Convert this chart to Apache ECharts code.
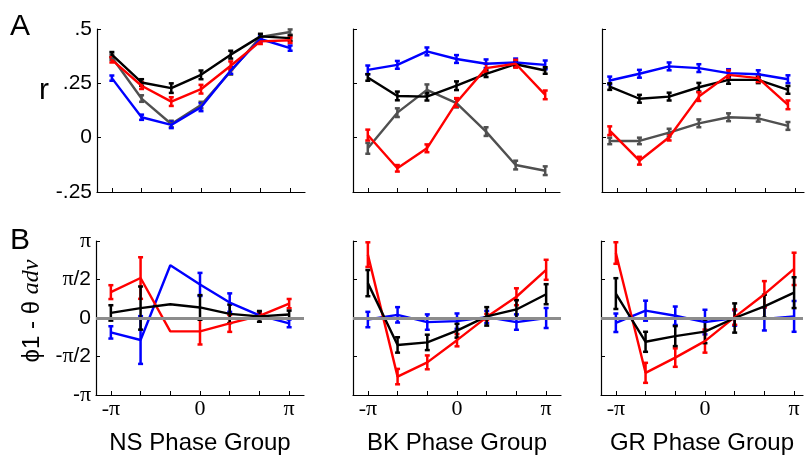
<!DOCTYPE html>
<html>
<head>
<meta charset="utf-8">
<script src="https://cdn.jsdelivr.net/npm/echarts@6/dist/echarts.min.js"></script>
<style>
  html, body { margin: 0; padding: 0; background: #fff; }
  #chart { width: 805px; height: 456px; }
</style>
</head>
<body>
<div id="chart"></div>
<script>
const phaseIdx = [0, 1, 2, 3, 4, 5, 6];
const phaseTickLabels = ["-π", "", "", "0", "", "", "π"];
const rTicks = { "0.5": ".5", "0.25": ".25", "0": "0", "-0.25": "-.25" };
const piTicks = { "1": "π", "0.5": "π/2", "0": "0", "-0.5": "-π/2", "-1": "-π" };
const groupNames = ["NS Phase Group", "BK Phase Group", "GR Phase Group"];

// row A: correlation r
const nsRBlack = [0.382, 0.254, 0.228, 0.289, 0.382, 0.466, 0.458];
const nsRRed = [0.358, 0.239, 0.166, 0.223, 0.331, 0.443, 0.448];
const nsRBlue = [0.274, 0.094, 0.059, 0.14, 0.309, 0.454, 0.412];
const nsRGray = [0.37, 0.18, 0.063, 0.15, 0.305, 0.463, 0.486];
const nsRErrBlack = [0.012, 0.015, 0.022, 0.02, 0.018, 0.012, 0.012];
const nsRErrRed = [0.012, 0.015, 0.02, 0.02, 0.02, 0.012, 0.012];
const nsRErrBlue = [0.012, 0.012, 0.015, 0.018, 0.015, 0.012, 0.012];
const nsRErrGray = [0.012, 0.015, 0.015, 0.015, 0.015, 0.012, 0.012];

const bkRBlue = [0.312, 0.335, 0.397, 0.362, 0.34, 0.346, 0.335];
const bkRBlack = [0.277, 0.192, 0.189, 0.239, 0.294, 0.338, 0.309];
const bkRGray = [-0.049, 0.115, 0.22, 0.159, 0.028, -0.126, -0.152];
const bkRRed = [0.012, -0.141, -0.049, 0.162, 0.32, 0.34, 0.197];
const bkRErrBlue = [0.02, 0.018, 0.018, 0.018, 0.02, 0.018, 0.02];
const bkRErrBlack = [0.015, 0.02, 0.018, 0.02, 0.015, 0.012, 0.015];
const bkRErrGray = [0.025, 0.02, 0.025, 0.02, 0.02, 0.02, 0.02];
const bkRErrRed = [0.025, 0.015, 0.018, 0.02, 0.02, 0.018, 0.02];

const grRBlue = [0.263, 0.294, 0.328, 0.32, 0.297, 0.292, 0.269];
const grRBlack = [0.235, 0.179, 0.189, 0.232, 0.266, 0.266, 0.22];
const grRGray = [-0.015, -0.015, 0.023, 0.066, 0.094, 0.089, 0.054];
const grRRed = [0.032, -0.106, 0.002, 0.189, 0.289, 0.274, 0.151];
const grRErrBlue = [0.018, 0.018, 0.018, 0.018, 0.018, 0.018, 0.018];
const grRErrBlack = [0.015, 0.018, 0.018, 0.02, 0.018, 0.015, 0.018];
const grRErrGray = [0.015, 0.015, 0.018, 0.018, 0.018, 0.015, 0.018];
const grRErrRed = [0.02, 0.018, 0.015, 0.02, 0.02, 0.018, 0.02];

// row B: phase difference, in units of pi
const nsPRed = [0.336, 0.519, -0.174, -0.174, -0.07, 0.029, 0.187];
const nsPBlue = [-0.187, -0.286, 0.685, 0.436, 0.2, 0.033, -0.07];
const nsPBlack = [0.066, 0.129, 0.178, 0.137, 0.054, 0.021, 0.046];
const nsPErrRed = [0.09, 0.27, null, 0.17, 0.11, 0.04, 0.06];
const nsPErrBlue = [0.08, 0.31, null, 0.15, 0.12, 0.04, 0.05];
const nsPErrBlack = [0.1, 0.28, null, 0.16, 0.12, 0.07, 0.05];

const bkPRed = [0.823, -0.761, -0.576, -0.288, 0.012, 0.276, 0.626];
const bkPBlack = [0.453, -0.35, -0.317, -0.165, 0.021, 0.111, 0.309];
const bkPBlue = [-0.02, 0.041, -0.053, -0.041, 0.012, -0.053, 0];
const bkPErrRed = [0.16, 0.1, 0.09, 0.08, 0.04, 0.11, 0.13];
const bkPErrBlack = [0.17, 0.1, 0.1, 0.09, 0.12, 0.12, 0.13];
const bkPErrBlue = [0.1, 0.1, 0.1, 0.1, 0.08, 0.1, 0.13];

const grPRed = [0.844, -0.712, -0.514, -0.3, 0.012, 0.309, 0.638];
const grPBlack = [0.317, -0.309, -0.235, -0.177, 0, 0.152, 0.329];
const grPBlue = [-0.062, 0.095, 0.029, -0.053, 0, -0.012, 0.021];
const grPErrRed = [0.14, 0.13, 0.12, 0.15, 0.1, 0.17, 0.21];
const grPErrBlack = [0.2, 0.13, 0.13, 0.15, 0.19, 0.15, 0.2];
const grPErrBlue = [0.12, 0.13, 0.12, 0.16, 0.1, 0.15, 0.2];

const COLORS = { blue: "#0000ff", red: "#ff0000", black: "#000000", gray: "#505050" };
const FONT = "Liberation Sans";

const chart = echarts.init(document.getElementById("chart"), null, { renderer: "canvas" });

// panel boxes: [left, top, width, height, xMax]
const panels = [
  [97, 29, 208, 163, 6.5],
  [353, 29, 207, 163, 6.5],
  [602, 29, 202, 163, 6.3],
  [96, 241, 208, 161, 6.5],
  [353, 241, 208, 161, 6.5],
  [601, 241, 202, 161, 6.3]
];

function errRender(params, api) {
  const e = api.value(2);
  if (e == null || isNaN(e)) return;
  const x = api.value(0);
  const y = api.value(1);
  const top = api.coord([x, y + e]);
  const bot = api.coord([x, y - e]);
  const w = 2.5;
  const style = { stroke: api.visual("color"), lineWidth: 2.5 };
  return {
    type: "group",
    children: [
      { type: "line", shape: { x1: top[0], y1: top[1], x2: bot[0], y2: bot[1] }, style },
      { type: "line", shape: { x1: top[0] - w, y1: top[1], x2: top[0] + w, y2: top[1] }, style },
      { type: "line", shape: { x1: bot[0] - w, y1: bot[1], x2: bot[0] + w, y2: bot[1] }, style }
    ]
  };
}

const series = [];

function addTrace(panel, color, values, errs, shift) {
  const dx = shift || 0;
  const pts = phaseIdx.map((x, i) => [x + dx, values[i]]);
  series.push({
    type: "line",
    xAxisIndex: panel,
    yAxisIndex: panel,
    data: pts,
    symbol: "none",
    lineStyle: { color: COLORS[color], width: 2.4 },
    itemStyle: { color: COLORS[color] },
    z: 3,
    silent: true,
    animation: false
  });
  series.push({
    type: "custom",
    xAxisIndex: panel,
    yAxisIndex: panel,
    data: phaseIdx.map((x, i) => [x + dx, values[i], errs[i] == null ? NaN : errs[i]]),
    renderItem: errRender,
    itemStyle: { color: COLORS[color] },
    z: 3,
    silent: true,
    animation: false
  });
}

addTrace(0, "gray", nsRGray, nsRErrGray);
addTrace(0, "blue", nsRBlue, nsRErrBlue);
addTrace(0, "black", nsRBlack, nsRErrBlack);
addTrace(0, "red", nsRRed, nsRErrRed);

addTrace(1, "gray", bkRGray, bkRErrGray);
addTrace(1, "blue", bkRBlue, bkRErrBlue);
addTrace(1, "black", bkRBlack, bkRErrBlack);
addTrace(1, "red", bkRRed, bkRErrRed);

addTrace(2, "gray", grRGray, grRErrGray, -0.24);
addTrace(2, "blue", grRBlue, grRErrBlue, -0.24);
addTrace(2, "black", grRBlack, grRErrBlack, -0.24);
addTrace(2, "red", grRRed, grRErrRed, -0.24);

// zero reference lines in row B
[3, 4, 5].forEach((p) => {
  series.push({
    type: "line",
    xAxisIndex: p,
    yAxisIndex: p,
    data: [],
    markLine: {
      silent: true,
      symbol: "none",
      label: { show: false },
      lineStyle: { color: "#8c8c8c", width: 3, type: "solid" },
      data: [{ yAxis: 0 }],
      animation: false
    },
    z: 1
  });
});

addTrace(3, "blue", nsPBlue, nsPErrBlue);
addTrace(3, "red", nsPRed, nsPErrRed);
addTrace(3, "black", nsPBlack, nsPErrBlack);

addTrace(4, "blue", bkPBlue, bkPErrBlue);
addTrace(4, "red", bkPRed, bkPErrRed);
addTrace(4, "black", bkPBlack, bkPErrBlack);

addTrace(5, "blue", grPBlue, grPErrBlue);
addTrace(5, "red", grPRed, grPErrRed);
addTrace(5, "black", grPBlack, grPErrBlack);

const grids = panels.map((p) => ({ left: p[0], top: p[1], width: p[2], height: p[3], containLabel: false }));

const axisLineStyle = { show: true, onZero: false, lineStyle: { color: "#000", width: 1.2 } };

const xAxes = panels.map((p, i) => {
  const rowB = i >= 3;
  return {
    type: "value",
    gridIndex: i,
    min: -0.5,
    max: p[4],
    axisLine: axisLineStyle,
    splitLine: { show: false },
    axisTick: {
      show: true,
      inside: true,
      length: 4,
      customValues: phaseIdx,
      lineStyle: { color: "#000", width: 1 }
    },
    axisLabel: rowB
      ? {
          show: true,
          customValues: [0, 3, 6],
          margin: 3,
          color: "#000",
          fontFamily: "Liberation Serif",
          fontSize: 22,
          formatter: (v) => phaseTickLabels[Math.round(v)]
        }
      : { show: false },
    name: rowB ? groupNames[i - 3] : "",
    nameLocation: "middle",
    nameGap: 36,
    nameTextStyle: { color: "#000", fontFamily: FONT, fontSize: 24 }
  };
});

const yAxes = panels.map((p, i) => {
  const rowB = i >= 3;
  const showLabel = i === 0 || i === 3;
  return {
    type: "value",
    gridIndex: i,
    min: rowB ? -1 : -0.25,
    max: rowB ? 1 : 0.5,
    interval: rowB ? 0.5 : 0.25,
    axisLine: axisLineStyle,
    splitLine: { show: false },
    axisTick: { show: true, inside: true, length: 4, lineStyle: { color: "#000", width: 1 } },
    axisLabel: {
      show: showLabel,
      margin: 5,
      color: "#000",
      fontFamily: FONT,
      fontSize: 21,
      formatter: (v) => {
        const key = String(Math.round(v * 100) / 100);
        if (rowB) {
          const t = piTicks[key] || "";
          return t.replace(/π/g, "{p|π}");
        }
        return rTicks[key] || "";
      },
      rich: { p: { fontFamily: "Liberation Serif", fontSize: 22, color: "#000" } }
    }
  };
});

chart.setOption({
  animation: false,
  backgroundColor: "#fff",
  grid: grids,
  xAxis: xAxes,
  yAxis: yAxes,
  series: series,
  graphic: [
    { type: "text", left: 10, top: 12, style: { text: "A", font: "30px Liberation Sans", fill: "#000" } },
    { type: "text", left: 10, top: 226, style: { text: "B", font: "30px Liberation Sans", fill: "#000" } },
    { type: "text", left: 39, top: 76, style: { text: "r", font: "30px Liberation Sans", fill: "#000" } },
    {
      type: "text",
      x: 32,
      y: 311,
      rotation: Math.PI / 2,
      style: {
        text: "ϕ1 - θ {i|adv}",
        font: "24px Liberation Sans",
        fill: "#000",
        align: "center",
        verticalAlign: "middle",
        rich: { i: { fontFamily: "Liberation Serif", fontStyle: "italic", fontSize: 24, fill: "#000" } }
      }
    }
  ]
});
</script>
</body>
</html>
